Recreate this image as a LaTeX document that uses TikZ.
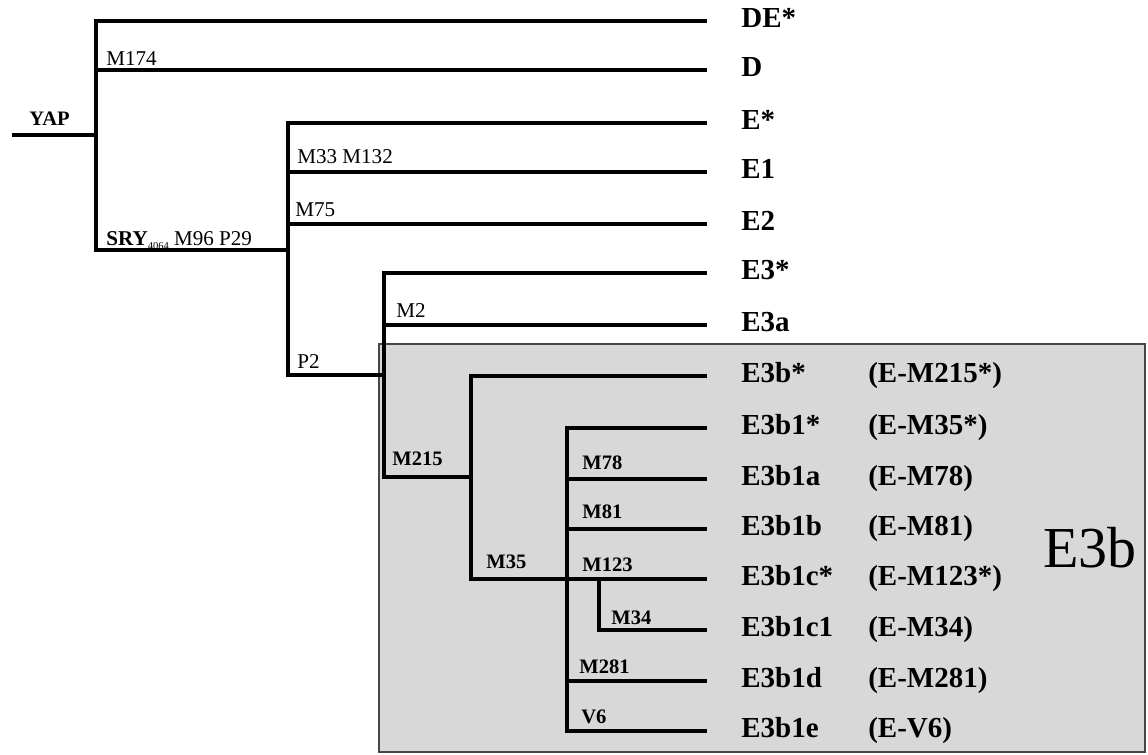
\documentclass[tikz,border=0pt]{standalone}
\usepackage{fontspec}
\setmainfont{Liberation Serif}
\usetikzlibrary{positioning}
\definecolor{hapgray}{RGB}{216,216,216}
\definecolor{hapedge}{RGB}{70,70,70}

\begin{document}
\begin{tikzpicture}[
    x=0.02cm, y=-0.02cm,
    branch/.style={line width=2.2pt},
    leaf/.style={font=\fontsize{16.5}{18}\selectfont\bfseries, inner sep=0pt, anchor=mid west, yshift=-1.6pt},
    snp/.style={font=\fontsize{12}{13}\selectfont, inner sep=0pt, anchor=base west},
    snpb/.style={snp, font=\fontsize{11.7}{13}\selectfont\bfseries}
]
\useasboundingbox (0,0) rectangle (1148,754);

% E3b clade box
\draw[fill=hapgray, draw=hapedge, line width=0.6pt] (379,344) rectangle (1145,752);

% Junctions
\coordinate (root) at (12,135);
\coordinate (yap) at (96,135);
\coordinate (sry) at (288,250);
\coordinate (p2) at (384,375);
\coordinate (m215) at (471,477);
\coordinate (m35) at (567,579);
\coordinate (m123) at (599,579);

% Tips
\coordinate (tDE) at (707,21);
\coordinate (tD) at (707,70);
\coordinate (tEs) at (707,123);
\coordinate (tE1) at (707,172);
\coordinate (tE2) at (707,224);
\coordinate (tE3s) at (707,273);
\coordinate (tE3a) at (707,325);
\coordinate (tE3bs) at (707,376);
\coordinate (tb1s) at (707,428);
\coordinate (tb1a) at (707,479);
\coordinate (tb1b) at (707,529);
\coordinate (tb1c) at (707,579);
\coordinate (tb1c1) at (707,630);
\coordinate (tb1d) at (707,681);
\coordinate (tb1e) at (707,731);

% Branches
\draw[branch] (root) -- (yap);
\draw[branch] (tDE) -| (yap) |- (sry);
\draw[branch] (yap) |- (tD);
\draw[branch] (tEs) -| (sry) |- (p2);
\draw[branch] (sry) |- (tE1);
\draw[branch] (sry) |- (tE2);
\draw[branch] (tE3s) -| (p2) |- (m215);
\draw[branch] (p2) |- (tE3a);
\draw[branch] (tE3bs) -| (m215) |- (m35);
\draw[branch] (tb1s) -| (m35) |- (tb1e);
\draw[branch] (m35) |- (tb1a);
\draw[branch] (m35) |- (tb1b);
\draw[branch] (m35) -- (tb1c);
\draw[branch] (m35) |- (tb1d);
\draw[branch] (m123) |- (tb1c1);

% Haplogroups
\node[right=0.68cm of tDE, leaf] (DE) {DE*};
\node[right=0.68cm of tD, leaf] (D) {D};
\node[right=0.68cm of tEs, leaf] (Es) {E*};
\node[right=0.68cm of tE1, leaf] (E1) {E1};
\node[right=0.68cm of tE2, leaf] (E2) {E2};
\node[right=0.68cm of tE3s, leaf] (E3s) {E3*};
\node[right=0.68cm of tE3a, leaf] (E3a) {E3a};
\node[right=0.68cm of tE3bs, leaf] (E3bs) {E3b*};
\node[right=0.68cm of tb1s, leaf] (b1s) {E3b1*};
\node[right=0.68cm of tb1a, leaf] (b1a) {E3b1a};
\node[right=0.68cm of tb1b, leaf] (b1b) {E3b1b};
\node[right=0.68cm of tb1c, leaf] (b1c) {E3b1c*};
\node[right=0.68cm of tb1c1, leaf] (b1c1) {E3b1c1};
\node[right=0.68cm of tb1d, leaf] (b1d) {E3b1d};
\node[right=0.68cm of tb1e, leaf] (b1e) {E3b1e};

% Marker names
\node[right=3.22cm of tE3bs, leaf] (cE3bs) {(E-M215*)};
\node[right=3.22cm of tb1s, leaf] (cb1s) {(E-M35*)};
\node[right=3.22cm of tb1a, leaf] (cb1a) {(E-M78)};
\node[right=3.22cm of tb1b, leaf] (cb1b) {(E-M81)};
\node[right=3.22cm of tb1c, leaf] (cb1c) {(E-M123*)};
\node[right=3.22cm of tb1c1, leaf] (cb1c1) {(E-M34)};
\node[right=3.22cm of tb1d, leaf] (cb1d) {(E-M281)};
\node[right=3.22cm of tb1e, leaf] (cb1e) {(E-V6)};

% Mutations
\node[snpb] (lyap) at (29,125) {YAP};
\node[snp] (lm174) at (106,65) {M174};
\node[snp] (lsry) at (106,245) {\textbf{SRY}\raisebox{-0.45ex}{\fontsize{6}{6}\selectfont 4064} M96 P29};
\node[snp] (lm33) at (297,163) {M33 M132};
\node[snp] (lm75) at (295,216) {M75};
\node[snp] (lp2) at (297,368) {P2};
\node[snp] (lm2) at (396,317) {M2};
\node[snpb] (lm215) at (392,465) {M215};
\node[snpb] (lm35) at (486,568) {M35};
\node[snpb] (lm78) at (582,469) {M78};
\node[snpb] (lm81) at (582,518) {M81};
\node[snpb] (lm123) at (582,571) {M123};
\node[snpb] (lm34) at (611,624) {M34};
\node[snpb] (lm281) at (579,673) {M281};
\node[snpb] (lv6) at (581,723) {V6};

% Clade label
\node[font=\fontsize{33}{36}\selectfont] (clade) at (1090,548) {E3b};

\end{tikzpicture}
\end{document}
